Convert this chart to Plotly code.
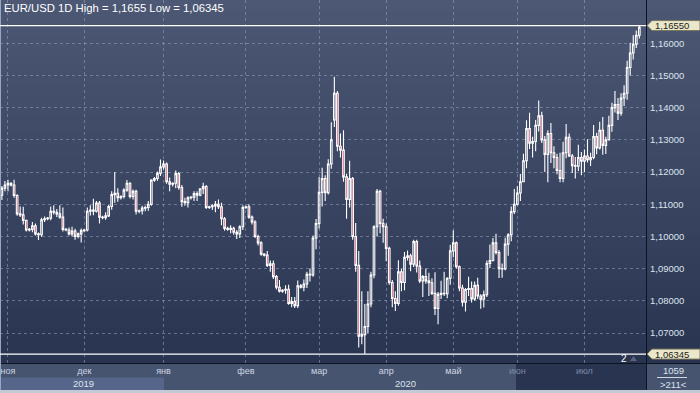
import plotly.graph_objects as go

# ---------------- data (EUR/USD daily) ----------------
bar_index = list(range(210))

open_ = [1.1128, 1.1150, 1.1160, 1.1165, 1.1160, 1.1127, 1.1070, 1.1067, 1.1050, 1.1020,
         1.1022, 1.1033, 1.1008, 1.1005, 1.1052, 1.1055, 1.1057, 1.1078, 1.1075, 1.1070,
         1.1060, 1.1022, 1.1020, 1.1008, 1.1017, 1.1000, 1.1008, 1.1018, 1.1020, 1.1078,
         1.1082, 1.1078, 1.1104, 1.1060, 1.1058, 1.1064, 1.1093, 1.1130, 1.1134, 1.1120,
         1.1124, 1.1144, 1.1165, 1.1124, 1.1140, 1.1078, 1.1080, 1.1088, 1.1090, 1.1100,
         1.1175, 1.1180, 1.1196, 1.1216, 1.1225, 1.1170, 1.1162, 1.1165, 1.1195, 1.1152,
         1.1108, 1.1105, 1.1120, 1.1122, 1.1133, 1.1128, 1.1148, 1.1155, 1.1090, 1.1092,
         1.1095, 1.1100, 1.1092, 1.1055, 1.1025, 1.1022, 1.1025, 1.1013, 1.1008, 1.1030,
         1.1090, 1.1092, 1.1060, 1.1045, 1.1000, 1.0980, 1.0945, 1.0942, 1.0910, 1.0915,
         1.0875, 1.0842, 1.0830, 1.0833, 1.0836, 1.0792, 1.0798, 1.0785, 1.0847, 1.0842,
         1.0852, 1.0882, 1.0880, 1.0995, 1.1040, 1.1137, 1.1180, 1.1136, 1.1225, 1.1362,
         1.1445, 1.1280, 1.1268, 1.1185, 1.1115, 1.1180, 1.1000, 1.0910, 1.0690, 1.0695,
         1.0720, 1.0790, 1.0880, 1.1030, 1.1140, 1.1040, 1.1030, 1.0963, 1.0857, 1.0807,
         1.0792, 1.0890, 1.0857, 1.0935, 1.0940, 1.0914, 1.0984, 1.0908, 1.0862, 1.0875,
         1.0862, 1.0856, 1.0823, 1.0776, 1.0820, 1.0823, 1.0822, 1.0870, 1.0955, 1.0980,
         1.0906, 1.0840, 1.0796, 1.0835, 1.0838, 1.0806, 1.0848, 1.0815, 1.0805, 1.0819,
         1.0916, 1.0925, 1.0980, 1.0950, 1.0900, 1.0899, 1.0976, 1.1005, 1.1077, 1.1100,
         1.1135, 1.1170, 1.1235, 1.1335, 1.1290, 1.1295, 1.1345, 1.1375, 1.1300, 1.1255,
         1.1320, 1.1260, 1.1245, 1.1205, 1.1180, 1.1260, 1.1308, 1.1250, 1.1220, 1.1218,
         1.1245, 1.1234, 1.1250, 1.1238, 1.1245, 1.1310, 1.1275, 1.1330, 1.1283, 1.1300,
         1.1345, 1.1400, 1.1410, 1.1383, 1.1430, 1.1445, 1.1525, 1.1570, 1.1597, 1.1625]

high = [1.1157, 1.1172, 1.1176, 1.1168, 1.1176, 1.1131, 1.1093, 1.1092, 1.1052, 1.1026,
        1.1045, 1.1040, 1.1012, 1.1058, 1.1062, 1.1060, 1.1093, 1.1097, 1.1085, 1.1097,
        1.1090, 1.1026, 1.1028, 1.1030, 1.1024, 1.1012, 1.1025, 1.1023, 1.1090, 1.1097,
        1.1117, 1.1110, 1.1110, 1.1064, 1.1075, 1.1098, 1.1140, 1.1200, 1.1150, 1.1128,
        1.1150, 1.1175, 1.1168, 1.1146, 1.1145, 1.1084, 1.1095, 1.1095, 1.1110, 1.1178,
        1.1185, 1.1202, 1.1239, 1.1236, 1.1230, 1.1183, 1.1168, 1.1205, 1.1200, 1.1160,
        1.1120, 1.1125, 1.1125, 1.1140, 1.1140, 1.1150, 1.1167, 1.1160, 1.1095, 1.1100,
        1.1110, 1.1115, 1.1105, 1.1060, 1.1030, 1.1035, 1.1030, 1.1020, 1.1035, 1.1097,
        1.1095, 1.1100, 1.1065, 1.1050, 1.1005, 1.0985, 1.0948, 1.0955, 1.0925, 1.0925,
        1.0880, 1.0865, 1.0836, 1.0848, 1.0850, 1.0812, 1.0812, 1.0863, 1.0852, 1.0866,
        1.0890, 1.0900, 1.1003, 1.1054, 1.1185, 1.1213, 1.1190, 1.1240, 1.1355, 1.1496,
        1.1452, 1.1320, 1.1330, 1.1195, 1.1235, 1.1185, 1.1042, 1.0955, 1.0830, 1.0790,
        1.0830, 1.0890, 1.1035, 1.1147, 1.1145, 1.1055, 1.1040, 1.0968, 1.0865, 1.0830,
        1.0926, 1.0900, 1.0952, 1.0956, 1.0946, 1.0990, 1.0990, 1.0925, 1.0880, 1.0900,
        1.0887, 1.0870, 1.0889, 1.0827, 1.0862, 1.0890, 1.0873, 1.0974, 1.1019, 1.0984,
        1.0910, 1.0850, 1.0840, 1.0875, 1.0860, 1.0860, 1.0872, 1.0820, 1.0832, 1.0925,
        1.0975, 1.0995, 1.1008, 1.0958, 1.0916, 1.0996, 1.1010, 1.1093, 1.1147, 1.1156,
        1.1194, 1.1257, 1.1361, 1.1384, 1.1310, 1.1362, 1.1422, 1.1387, 1.1312, 1.1330,
        1.1352, 1.1280, 1.1257, 1.1260, 1.1294, 1.1349, 1.1320, 1.1256, 1.1247, 1.1285,
        1.1262, 1.1270, 1.1302, 1.1260, 1.1346, 1.1322, 1.1356, 1.1371, 1.1310, 1.1375,
        1.1415, 1.1452, 1.1430, 1.1445, 1.1470, 1.1546, 1.1602, 1.1625, 1.1640, 1.1655]

low = [1.1113, 1.1140, 1.1140, 1.1155, 1.1120, 1.1064, 1.1060, 1.1037, 1.1015, 1.1015,
       1.1013, 1.1003, 1.0989, 1.0999, 1.1045, 1.1050, 1.1050, 1.1068, 1.1060, 1.1055,
       1.1015, 1.1016, 1.1003, 1.1000, 1.0990, 1.0994, 1.0981, 1.1013, 1.1015, 1.1065,
       1.1066, 1.1074, 1.1040, 1.1053, 1.1052, 1.1060, 1.1083, 1.1105, 1.1108, 1.1115,
       1.1118, 1.1139, 1.1118, 1.1115, 1.1068, 1.1072, 1.1068, 1.1078, 1.1080, 1.1095,
       1.1170, 1.1173, 1.1188, 1.1208, 1.1164, 1.1140, 1.1155, 1.1150, 1.1145, 1.1092,
       1.1095, 1.1090, 1.1115, 1.1110, 1.1110, 1.1125, 1.1132, 1.1085, 1.1085, 1.1082,
       1.1075, 1.1085, 1.1035, 1.1018, 1.1018, 1.1010, 1.1005, 1.0992, 1.0995, 1.1020,
       1.1085, 1.1055, 1.1037, 1.0995, 1.0972, 1.0940, 1.0938, 1.0905, 1.0890, 1.0868,
       1.0835, 1.0826, 1.0825, 1.0822, 1.0788, 1.0780, 1.0778, 1.0778, 1.0838, 1.0830,
       1.0840, 1.0860, 1.0875, 1.0960, 1.1025, 1.1093, 1.1110, 1.1130, 1.1210, 1.1340,
       1.1265, 1.1245, 1.1170, 1.1055, 1.1090, 1.0990, 1.0890, 1.0655, 1.0665, 1.06345,
       1.0700, 1.0780, 1.0870, 1.1000, 1.1010, 1.0980, 1.0923, 1.0850, 1.0780, 1.0768,
       1.0785, 1.0830, 1.0833, 1.0925, 1.0892, 1.0905, 1.0888, 1.0855, 1.0812, 1.0853,
       1.0815, 1.0818, 1.0756, 1.0727, 1.0806, 1.0815, 1.0808, 1.0850, 1.0935, 1.0900,
       1.0830, 1.0782, 1.0767, 1.0815, 1.0795, 1.0800, 1.0806, 1.0775, 1.0779, 1.0812,
       1.0902, 1.0922, 1.0944, 1.0871, 1.0872, 1.0895, 1.0940, 1.0985, 1.1070, 1.1096,
       1.1110, 1.1168, 1.1212, 1.1272, 1.1245, 1.1265, 1.1326, 1.1290, 1.1200, 1.1168,
       1.1228, 1.1212, 1.1193, 1.1168, 1.1168, 1.1243, 1.1247, 1.1197, 1.1180, 1.1203,
       1.1190, 1.1200, 1.1230, 1.1219, 1.1240, 1.1255, 1.1270, 1.1254, 1.1256, 1.1300,
       1.1325, 1.1385, 1.1362, 1.1375, 1.1405, 1.1425, 1.1500, 1.1550, 1.1585, 1.1615]

close = [1.1150, 1.1160, 1.1165, 1.1160, 1.1127, 1.1070, 1.1067, 1.1050, 1.1020, 1.1022,
         1.1033, 1.1008, 1.1005, 1.1052, 1.1055, 1.1057, 1.1078, 1.1075, 1.1070, 1.1060,
         1.1022, 1.1020, 1.1008, 1.1017, 1.1000, 1.1008, 1.1018, 1.1020, 1.1078, 1.1082,
         1.1078, 1.1104, 1.1060, 1.1058, 1.1064, 1.1093, 1.1130, 1.1134, 1.1120, 1.1124,
         1.1144, 1.1165, 1.1124, 1.1140, 1.1078, 1.1080, 1.1088, 1.1090, 1.1100, 1.1175,
         1.1180, 1.1196, 1.1216, 1.1225, 1.1170, 1.1162, 1.1165, 1.1195, 1.1152, 1.1108,
         1.1105, 1.1120, 1.1122, 1.1133, 1.1128, 1.1148, 1.1155, 1.1090, 1.1092, 1.1095,
         1.1100, 1.1092, 1.1055, 1.1025, 1.1022, 1.1025, 1.1013, 1.1008, 1.1030, 1.1090,
         1.1092, 1.1060, 1.1045, 1.1000, 1.0980, 1.0945, 1.0942, 1.0910, 1.0915, 1.0875,
         1.0842, 1.0830, 1.0833, 1.0836, 1.0792, 1.0798, 1.0785, 1.0847, 1.0842, 1.0852,
         1.0882, 1.0880, 1.0995, 1.1040, 1.1137, 1.1180, 1.1136, 1.1225, 1.1300, 1.1445,
         1.1280, 1.1268, 1.1185, 1.1115, 1.1180, 1.1000, 1.0910, 1.0690, 1.0695, 1.0720,
         1.0790, 1.0880, 1.1030, 1.1140, 1.1040, 1.1030, 1.0963, 1.0857, 1.0807, 1.0792,
         1.0890, 1.0857, 1.0935, 1.0940, 1.0914, 1.0984, 1.0908, 1.0862, 1.0875, 1.0862,
         1.0856, 1.0823, 1.0776, 1.0820, 1.0823, 1.0822, 1.0870, 1.0955, 1.0980, 1.0906,
         1.0840, 1.0796, 1.0835, 1.0838, 1.0806, 1.0848, 1.0815, 1.0805, 1.0819, 1.0916,
         1.0925, 1.0980, 1.0950, 1.0900, 1.0899, 1.0976, 1.1005, 1.1077, 1.1100, 1.1135,
         1.1170, 1.1235, 1.1335, 1.1290, 1.1295, 1.1345, 1.1375, 1.1300, 1.1255, 1.1320,
         1.1260, 1.1245, 1.1205, 1.1180, 1.1260, 1.1308, 1.1250, 1.1220, 1.1218, 1.1245,
         1.1234, 1.1250, 1.1238, 1.1245, 1.1310, 1.1275, 1.1330, 1.1283, 1.1300, 1.1345,
         1.1400, 1.1410, 1.1383, 1.1430, 1.1445, 1.1525, 1.1570, 1.1597, 1.1625, 1.1650]

month_ticks = [2, 27, 53, 80, 104, 126, 148, 169, 191]
month_labels = ["ноя", "дек", "янв", "фев", "мар", "апр", "май", "июн", "июл"]
month_dim = [False, False, False, False, False, False, False, True, True]
year_labels = ["2019", "2020"]
price_ticks = [1.07, 1.08, 1.09, 1.10, 1.11, 1.12, 1.13, 1.14, 1.15, 1.16]
price_labels = ["1,07000", "1,08000", "1,09000", "1,10000", "1,11000",
                "1,12000", "1,13000", "1,14000", "1,15000", "1,16000"]
range_high = 1.1655
range_low = 1.06345
title_text = "EUR/USD 1D High = 1,1655 Low = 1,06345"
tag_high = "1,16550"
tag_low = "1,06345"
counter_top = "1059"
counter_bottom = ">211<"
marker_two = "2"

# ---------------- layout geometry ----------------
W, H = 700, 393
PLOT_R = 646.0      # right edge of price pane (px)
PLOT_B = 363.0      # bottom edge of price pane (px)
Y_TOP = 1.17345     # price at the top edge of the pane
Y_BOT = 1.06068     # price at the bottom edge of the pane


def px(x):
    return x / W


def py(y):
    return 1 - y / H


def price_to_py(v):
    return (Y_TOP - v) / (Y_TOP - Y_BOT) * PLOT_B


fig = go.Figure()
fig.add_trace(go.Candlestick(
    x=bar_index, open=open_, high=high, low=low, close=close,
    increasing=dict(line=dict(color="#ffffff", width=1.1), fillcolor="rgba(0,0,0,0)"),
    decreasing=dict(line=dict(color="#ffffff", width=1.1), fillcolor="#c4223f"),
    whiskerwidth=0, hoverinfo="skip", showlegend=False,
))

shapes = []
# vertical gradient background of the price pane and right scale
top_c = (76, 88, 116)
bot_c = (41, 52, 81)
nb = 60
for k in range(nb):
    t = (k + 0.5) / nb
    c = tuple(int(round(top_c[j] + (bot_c[j] - top_c[j]) * t)) for j in range(3))
    y0 = PLOT_B * k / nb
    y1 = PLOT_B * (k + 1) / nb + 0.6
    shapes.append(dict(type="rect", xref="paper", yref="paper", layer="below",
                       x0=0, x1=1, y0=py(y1), y1=py(y0),
                       fillcolor="rgb(%d,%d,%d)" % c, line=dict(width=0)))

# bottom time-scale panel
shapes += [
    dict(type="rect", xref="paper", yref="paper", layer="below", x0=0, x1=1,
         y0=0, y1=py(PLOT_B), fillcolor="#46546f", line=dict(width=0)),
    dict(type="rect", xref="paper", yref="paper", layer="below", x0=0, x1=px(164),
         y0=0, y1=py(377.5), fillcolor="#56658a", line=dict(width=0)),
    dict(type="rect", xref="paper", yref="paper", layer="below", x0=px(516), x1=px(PLOT_R),
         y0=0, y1=py(PLOT_B), fillcolor="#283450", line=dict(width=0)),
    dict(type="rect", xref="paper", yref="paper", layer="above", x0=0, x1=1,
         y0=0, y1=py(390), fillcolor="#c3cad6", line=dict(width=0)),
]
# separators
shapes += [
    dict(type="line", xref="paper", yref="paper", x0=px(PLOT_R + 0.5), x1=px(PLOT_R + 0.5),
         y0=py(390), y1=1, line=dict(color="#0e1320", width=1)),
    dict(type="line", xref="paper", yref="paper", x0=0, x1=1, y0=py(PLOT_B + 0.5),
         y1=py(PLOT_B + 0.5), line=dict(color="#0e1320", width=1)),
    dict(type="line", xref="paper", yref="paper", x0=px(0.5), x1=px(0.5),
         y0=py(390), y1=1, line=dict(color="#9aa6c0", width=1)),
    dict(type="line", xref="paper", yref="paper", x0=px(657), x1=px(687),
         y0=py(377.5), y1=py(377.5), line=dict(color="#d0d7e4", width=1)),
]
# high / low range lines
for v in (range_high, range_low):
    shapes.append(dict(type="line", xref="paper", yref="y", x0=0, x1=px(PLOT_R),
                       y0=v, y1=v, line=dict(color="#ffffff", width=1.2)))

# price tags (arrow-shaped labels) on the right scale
for v in (range_high, range_low):
    yc = price_to_py(v)
    path = "M %f,%f L %f,%f L %f,%f L %f,%f L %f,%f Z" % (
        px(647), py(yc),
        px(652), py(yc - 5),
        px(700), py(yc - 5),
        px(700), py(yc + 5),
        px(652), py(yc + 5),
    )
    shapes.append(dict(type="path", xref="paper", yref="paper", path=path,
                       fillcolor="#ebe7c9", line=dict(color="#77765e", width=1)))

# small marker triangle next to the "2"
shapes.append(dict(type="path", xref="paper", yref="paper",
                   path="M %f,%f L %f,%f L %f,%f Z" % (px(630), py(361), px(637), py(361),
                                                        px(633.5), py(356)),
                   fillcolor="#59647e", line=dict(width=0)))

fig.update_layout(shapes=shapes)

for v, t in ((range_high, tag_high), (range_low, tag_low)):
    fig.add_annotation(x=px(653), xref="paper", y=py(price_to_py(v)), yref="paper", text=t,
                       showarrow=False, xanchor="left", yanchor="middle",
                       font=dict(family="Liberation Sans, Arial", size=9.5, color="#1c1c1c"))

ann_font = dict(family="Liberation Sans, Arial", size=9.5, color="#dde3ef")
fig.add_annotation(x=px(2), y=py(8.5), xref="paper", yref="paper", text=title_text,
                   showarrow=False, xanchor="left", yanchor="middle",
                   font=dict(family="Liberation Sans, Arial", size=11.3, color="#ffffff"))
fig.add_annotation(x=px(83), y=py(383), xref="paper", yref="paper", text=year_labels[0],
                   showarrow=False, xanchor="center", yanchor="middle", font=ann_font)
fig.add_annotation(x=px(405), y=py(383), xref="paper", yref="paper", text=year_labels[1],
                   showarrow=False, xanchor="center", yanchor="middle", font=ann_font)
fig.add_annotation(x=px(673), y=py(370.5), xref="paper", yref="paper", text=counter_top,
                   showarrow=False, xanchor="center", yanchor="middle", font=ann_font)
fig.add_annotation(x=px(673), y=py(384), xref="paper", yref="paper", text=counter_bottom,
                   showarrow=False, xanchor="center", yanchor="middle", font=ann_font)
fig.add_annotation(x=px(624), y=py(358), xref="paper", yref="paper", text=marker_two,
                   showarrow=False, xanchor="center", yanchor="middle",
                   font=dict(family="Liberation Sans, Arial", size=10, color="#ffffff"))

tick_text = [("<span style='color:#7d8aa4'>%s</span>" % m) if d else m
             for m, d in zip(month_labels, month_dim)]

grid_c = "rgba(150,163,192,0.55)"
fig.update_layout(
    width=W, height=H,
    margin=dict(l=0, r=0, t=0, b=0),
    paper_bgcolor="#3e4d6e",
    plot_bgcolor="rgba(0,0,0,0)",
    font=dict(family="Liberation Sans, Arial", color="#dde3ef"),
    showlegend=False,
    boxgap=0.25,
    xaxis=dict(
        domain=[0, px(PLOT_R)],
        range=[-0.62, 211.18],
        tickmode="array", tickvals=month_ticks, ticktext=tick_text,
        showgrid=True, gridcolor=grid_c, griddash="3px,3px", gridwidth=1,
        zeroline=False, showline=False, ticks="",
        tickfont=dict(size=9, color="#cfd6e4"),
        ticklabelstandoff=1,
        rangeslider=dict(visible=False),
        fixedrange=True, automargin=False,
    ),
    yaxis=dict(
        domain=[1 - PLOT_B / H, 1],
        range=[Y_BOT, Y_TOP],
        side="right",
        tickmode="array", tickvals=price_ticks, ticktext=price_labels,
        showgrid=True, gridcolor=grid_c, griddash="3px,3px", gridwidth=1,
        zeroline=False, showline=False, ticks="",
        tickfont=dict(size=9.5, color="#dde3ef"),
        ticklabelstandoff=3,
        fixedrange=True, automargin=False,
    ),
)

fig.write_html("out.html", config={"displayModeBar": False, "staticPlot": True},
               post_script="document.body.style.margin='0px';")
